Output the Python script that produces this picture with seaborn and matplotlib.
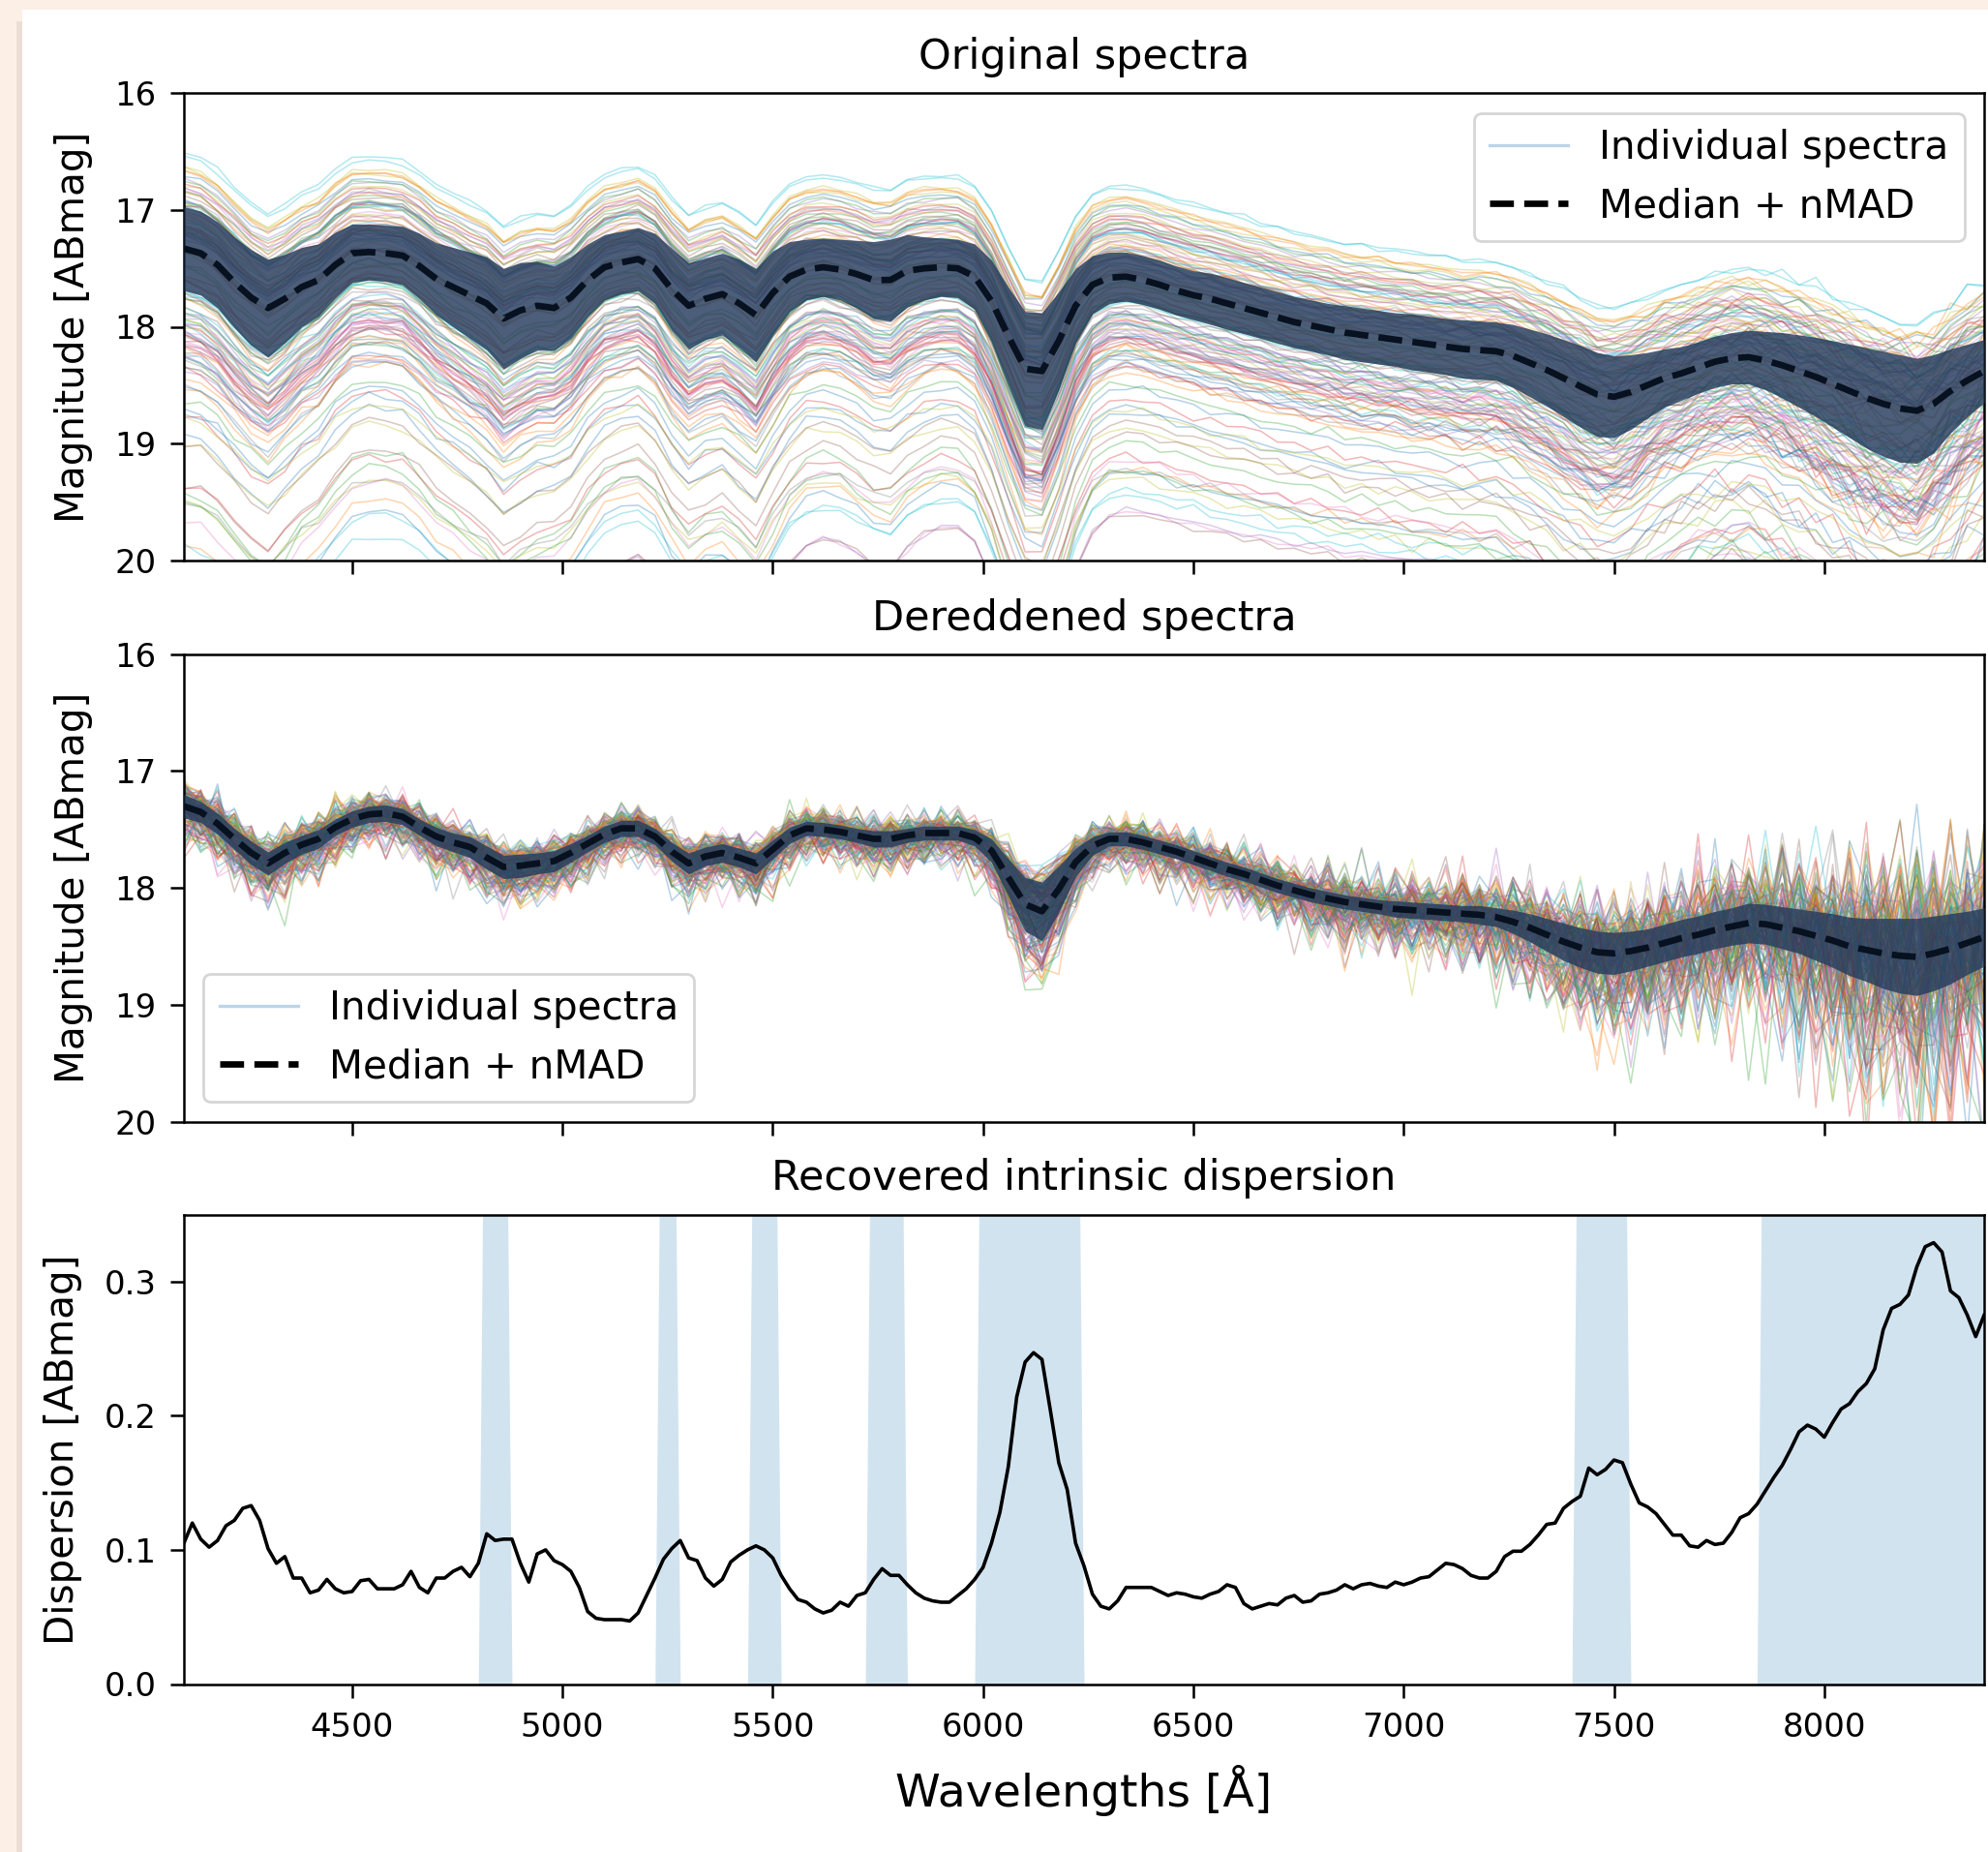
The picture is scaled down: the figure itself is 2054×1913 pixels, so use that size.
import numpy as np
import pandas as pd
import matplotlib
matplotlib.use("Agg")
import matplotlib.pyplot as plt
from matplotlib.lines import Line2D
from matplotlib.patches import Rectangle
import seaborn as sns

# ---------------- data ----------------
# spectral grid: 4100 .. 8380 Angstrom, 40 A step (108 points)
median_orig = [
    17.33, 17.37, 17.47, 17.62, 17.75, 17.84, 17.76, 17.66, 17.60, 17.47,
    17.37, 17.36, 17.37, 17.39, 17.48, 17.59, 17.66, 17.73, 17.80, 17.93,
    17.86, 17.82, 17.84, 17.75, 17.60, 17.49, 17.45, 17.42, 17.50, 17.68,
    17.82, 17.76, 17.72, 17.80, 17.90, 17.71, 17.57, 17.51, 17.49, 17.51,
    17.55, 17.60, 17.60, 17.52, 17.50, 17.49, 17.50, 17.57, 17.78, 18.08,
    18.36, 18.38, 18.12, 17.82, 17.64, 17.58, 17.57, 17.60, 17.64, 17.69,
    17.73, 17.76, 17.80, 17.84, 17.88, 17.92, 17.96, 17.99, 18.02, 18.05,
    18.07, 18.09, 18.11, 18.13, 18.15, 18.17, 18.19, 18.20, 18.21, 18.25,
    18.31, 18.37, 18.44, 18.51, 18.58, 18.60, 18.56, 18.50, 18.44, 18.40,
    18.35, 18.30, 18.27, 18.26, 18.29, 18.33, 18.38, 18.43, 18.49, 18.55,
    18.61, 18.66, 18.70, 18.72, 18.66, 18.55, 18.46, 18.38]
nmad_orig = [
    0.36, 0.36, 0.37, 0.39, 0.41, 0.42, 0.38, 0.34, 0.31, 0.28,
    0.25, 0.24, 0.24, 0.25, 0.28, 0.31, 0.34, 0.37, 0.40, 0.43,
    0.41, 0.38, 0.36, 0.35, 0.31, 0.28, 0.27, 0.27, 0.30, 0.35,
    0.37, 0.35, 0.35, 0.38, 0.40, 0.36, 0.30, 0.26, 0.25, 0.26,
    0.29, 0.33, 0.35, 0.31, 0.27, 0.25, 0.25, 0.28, 0.35, 0.42,
    0.49, 0.50, 0.42, 0.32, 0.25, 0.22, 0.21, 0.21, 0.21, 0.21,
    0.21, 0.22, 0.22, 0.22, 0.22, 0.22, 0.22, 0.22, 0.22, 0.23,
    0.23, 0.23, 0.23, 0.24, 0.24, 0.24, 0.25, 0.25, 0.25, 0.27,
    0.29, 0.31, 0.33, 0.35, 0.36, 0.35, 0.32, 0.28, 0.25, 0.23,
    0.22, 0.22, 0.22, 0.23, 0.25, 0.28, 0.31, 0.34, 0.37, 0.40,
    0.43, 0.45, 0.46, 0.45, 0.42, 0.36, 0.31, 0.27]
median_dered = [
    17.30, 17.35, 17.45, 17.58, 17.70, 17.79, 17.70, 17.63, 17.58, 17.48,
    17.41, 17.37, 17.36, 17.39, 17.48, 17.56, 17.61, 17.65, 17.74, 17.82,
    17.81, 17.79, 17.77, 17.70, 17.62, 17.54, 17.49, 17.49, 17.56, 17.69,
    17.79, 17.73, 17.70, 17.74, 17.79, 17.67, 17.55, 17.49, 17.50, 17.52,
    17.55, 17.58, 17.58, 17.55, 17.53, 17.53, 17.53, 17.57, 17.68, 17.91,
    18.14, 18.20, 18.01, 17.78, 17.64, 17.58, 17.58, 17.61, 17.65, 17.69,
    17.74, 17.79, 17.84, 17.88, 17.93, 17.98, 18.02, 18.06, 18.09, 18.12,
    18.14, 18.16, 18.18, 18.19, 18.20, 18.21, 18.22, 18.23, 18.25, 18.29,
    18.34, 18.40, 18.46, 18.51, 18.55, 18.56, 18.54, 18.51, 18.47, 18.43,
    18.40, 18.36, 18.33, 18.30, 18.31, 18.34, 18.37, 18.41, 18.45, 18.50,
    18.53, 18.56, 18.58, 18.59, 18.56, 18.52, 18.47, 18.42]
nmad_dered = [
    0.10, 0.09, 0.09, 0.09, 0.10, 0.10, 0.09, 0.08, 0.08, 0.07,
    0.07, 0.07, 0.07, 0.07, 0.07, 0.08, 0.08, 0.09, 0.10, 0.10,
    0.10, 0.09, 0.09, 0.08, 0.07, 0.07, 0.07, 0.07, 0.07, 0.08,
    0.09, 0.08, 0.08, 0.08, 0.09, 0.08, 0.07, 0.06, 0.06, 0.06,
    0.06, 0.07, 0.07, 0.06, 0.06, 0.06, 0.06, 0.07, 0.10, 0.16,
    0.23, 0.25, 0.20, 0.12, 0.08, 0.06, 0.06, 0.06, 0.06, 0.06,
    0.06, 0.06, 0.06, 0.06, 0.06, 0.06, 0.06, 0.06, 0.06, 0.06,
    0.06, 0.06, 0.07, 0.07, 0.07, 0.07, 0.07, 0.08, 0.08, 0.10,
    0.12, 0.14, 0.16, 0.17, 0.18, 0.18, 0.17, 0.16, 0.16, 0.16,
    0.16, 0.16, 0.16, 0.17, 0.17, 0.18, 0.19, 0.21, 0.23, 0.25,
    0.27, 0.30, 0.32, 0.33, 0.32, 0.30, 0.27, 0.25]
# per-point measurement error of the individual spectra
meas_error = [
    0.07, 0.07, 0.07, 0.07, 0.07, 0.07, 0.07, 0.07, 0.07, 0.07,
    0.06, 0.06, 0.06, 0.06, 0.06, 0.06, 0.06, 0.06, 0.06, 0.06,
    0.06, 0.06, 0.06, 0.06, 0.06, 0.06, 0.06, 0.06, 0.06, 0.06,
    0.06, 0.06, 0.06, 0.06, 0.06, 0.06, 0.06, 0.06, 0.06, 0.06,
    0.06, 0.06, 0.06, 0.06, 0.06, 0.06, 0.06, 0.06, 0.06, 0.07,
    0.07, 0.07, 0.06, 0.06, 0.06, 0.06, 0.06, 0.06, 0.06, 0.06,
    0.07, 0.07, 0.07, 0.07, 0.08, 0.08, 0.08, 0.08, 0.09, 0.09,
    0.09, 0.09, 0.10, 0.10, 0.10, 0.11, 0.11, 0.11, 0.12, 0.12,
    0.13, 0.13, 0.14, 0.14, 0.15, 0.15, 0.16, 0.16, 0.17, 0.17,
    0.18, 0.18, 0.19, 0.19, 0.20, 0.21, 0.22, 0.23, 0.24, 0.25,
    0.26, 0.27, 0.28, 0.29, 0.30, 0.30, 0.31, 0.31]
# hand-typed residual patterns (unit scale)
residual_a = [
    0.3, -1.2, 0.8, 1.5, -0.4, -2.1, 0.6, 0.1, -0.9, 1.9, -0.3, 0.7, -1.6, 0.4, 2.3, -0.8, -0.2, 1.1, -1.4, 0.5,
    -0.6, 1.3, 0.2, -2.6, 0.9, -0.1, 1.7, -1.0, 0.4, -0.5, 3.1, -1.3, 0.0, 0.8, -1.8, 1.2, -0.7, 0.6, -0.2, 2.0,
    -1.1, 0.3, -0.9, 1.4, -3.4, 0.7, 0.2, -0.6, 1.6, -1.5, 0.9, -0.3, 0.5, -2.2, 1.0, 0.1, -0.8, 2.6, -0.4, -1.2,
    0.7, 1.8, -0.5, -1.7, 0.3, 0.9, -2.4, 1.1, 0.2, -0.6, 1.5, -1.0, 3.6, -0.7, -0.1, 0.8, -1.9, 0.4, 1.2, -0.3,
    -1.4, 0.6, 2.1, -0.9, 0.0, -2.8, 1.3, 0.5, -0.4, 1.7, -1.1, 0.2, -0.6, 2.4, -1.6, 0.8, -0.2, 1.0, -3.0, 0.6,
    0.3, -1.3, 1.9, -0.5, 0.7, -0.9, 1.4, -2.0]
residual_b = [
    -0.5, 0.9, -1.7, 0.2, 1.4, -0.3, -2.5, 1.0, 0.6, -1.1, 0.4, 2.2, -0.8, -0.2, 1.3, -1.9, 0.7, 0.1, -0.6, 3.3,
    -1.4, 0.5, -0.1, 1.8, -1.0, -2.9, 0.8, 0.3, 1.1, -0.7, -1.5, 2.0, 0.0, -0.4, 1.6, -2.3, 0.9, -0.9, 0.2, 1.2,
    -0.3, -1.8, 2.7, -0.6, 0.4, 1.0, -1.2, -0.1, 1.9, -2.0, 0.6, 0.3, -3.7, 1.5, -0.5, 0.7, -1.3, 2.4, 0.1, -0.8,
    1.1, -1.6, 0.5, 0.0, -2.2, 1.7, -0.4, 0.8, -1.0, 2.9, -0.2, -1.4, 0.6, 1.3, -0.7, -2.6, 1.0, 0.2, 0.9, -1.1,
    3.8, -0.6, -0.3, 1.4, -1.7, 0.4, -2.1, 1.2, 0.7, -0.5, -1.2, 2.1, -0.9, 0.3, 1.6, -2.4, 0.5, -0.1, 1.1, -1.5,
    0.8, -0.4, 2.5, -1.9, 0.6, -0.8, 1.2, -0.3]

# individual spectra: (gray offset [mag], feature depth, colour excess)
upper_spectra = [
    (-0.15, 0.2, -0.02), (-0.42, 0.1, -0.06), (-0.08, 0.4, 0.03), (-0.55, 0.0, -0.10), (-0.25, 0.3, 0.00),
    (-0.33, 0.1, -0.04), (-0.62, 0.2, -0.08), (-0.12, 0.5, 0.04), (-0.47, 0.0, -0.03), (-0.20, 0.3, -0.07),
    (-0.05, 0.2, 0.02), (-0.38, 0.4, -0.05), (-0.68, 0.1, -0.12), (-0.28, 0.0, 0.01), (-0.17, 0.2, -0.09),
    (-0.51, 0.3, -0.02), (-0.09, 0.1, 0.05), (-0.36, 0.2, -0.06), (-0.22, 0.4, -0.01), (-0.58, 0.0, -0.04),
    (-0.13, 0.3, -0.03), (-0.44, 0.1, 0.02), (-0.30, 0.2, -0.10), (-0.03, 0.5, 0.00), (-0.49, 0.2, -0.07),
    (-0.19, 0.0, 0.03), (-0.40, 0.3, -0.02), (-0.26, 0.1, -0.05), (-0.65, 0.2, -0.03), (-0.10, 0.4, -0.08),
    (-0.35, 0.0, 0.01), (-0.21, 0.2, -0.04), (-0.53, 0.1, -0.06), (-0.07, 0.3, 0.02), (-0.31, 0.2, -0.09),
    (-0.45, 0.4, 0.00), (-0.16, 0.1, -0.03), (-0.72, 0.0, -0.05), (-0.24, 0.3, 0.04), (-0.39, 0.2, -0.07),
    (-0.11, 0.1, -0.01), (-0.57, 0.3, -0.04), (-0.29, 0.0, -0.02), (-0.02, 0.2, 0.03), (-0.46, 0.1, -0.08),
    (-0.18, 0.4, -0.05), (-0.34, 0.2, 0.01), (-0.61, 0.1, -0.06), (-0.14, 0.3, -0.02), (-0.27, 0.0, -0.10),
    (-0.50, 0.2, 0.00), (-0.06, 0.1, -0.04), (-0.37, 0.3, -0.03), (-0.23, 0.2, 0.02), (-0.43, 0.0, -0.07),
    (-0.10, 0.2, -0.01)]
lower_spectra = [
    (0.10, 0.8, 0.05), (0.35, 1.2, 0.20), (0.05, 0.6, 0.10), (0.52, 1.6, 0.30), (0.22, 1.0, 0.00),
    (0.15, 0.7, 0.35), (0.41, 1.4, 0.12), (0.03, 0.5, 0.02), (0.85, 2.0, 0.35), (0.28, 0.9, 0.40),
    (0.12, 1.1, 0.08), (0.47, 1.3, 0.18), (0.08, 0.6, 0.28), (0.33, 1.7, 0.05), (0.19, 0.8, 0.15),
    (0.56, 1.5, 0.45), (0.02, 0.7, 0.03), (0.38, 1.0, 0.22), (0.25, 1.9, 0.10), (0.95, 1.2, 0.40),
    (0.14, 0.5, 0.06), (0.44, 1.4, 0.14), (0.07, 0.9, 0.38), (0.31, 1.1, 0.02), (0.59, 2.2, 0.20),
    (0.17, 0.6, 0.27), (0.36, 1.3, 0.09), (0.04, 0.8, 0.16), (0.50, 1.0, 0.48), (0.26, 1.6, 0.04),
    (0.11, 0.7, 0.12), (0.42, 1.8, 0.24), (0.20, 0.9, 0.00), (0.80, 1.4, 0.50), (0.09, 0.5, 0.19),
    (0.34, 1.2, 0.07), (0.23, 2.0, 0.30), (0.54, 1.1, 0.13), (0.01, 0.6, 0.05), (0.39, 1.5, 0.42),
    (0.16, 0.8, 0.10), (0.48, 1.3, 0.21), (0.06, 1.0, 0.03), (0.29, 0.7, 0.34), (0.78, 1.7, 0.30),
    (0.21, 1.2, 0.17), (0.45, 0.9, 0.26), (0.13, 1.9, 0.01), (0.37, 0.6, 0.44), (0.27, 1.4, 0.11),
    (0.57, 1.0, 0.29), (0.03, 0.8, 0.06), (0.32, 1.6, 0.18), (0.18, 0.5, 0.39), (0.49, 1.1, 0.02),
    (0.10, 1.3, 0.23), (0.40, 2.1, 0.14), (0.24, 0.7, 0.31), (0.90, 1.2, 0.25), (0.15, 0.9, 0.20),
    (0.43, 1.5, 0.05), (0.08, 0.6, 0.35), (0.30, 1.8, 0.12), (0.53, 1.0, 0.27), (0.19, 1.4, 0.00),
    (0.35, 0.8, 0.41), (0.05, 1.1, 0.15), (0.46, 1.3, 0.07), (0.22, 1.9, 0.25), (0.75, 0.7, 0.45)]
outlier_spectra = [
    (0.10, 2.0, 2.20), (1.00, 1.5, 1.00), (0.80, 2.5, 0.70), (0.30, 1.8, 2.00), (1.20, 1.2, 0.60),
    (0.60, 2.2, 1.20), (0.00, 2.0, 2.30), (0.90, 1.0, 0.85), (0.45, 2.4, 1.40), (1.10, 1.6, 0.50),
    (0.70, 2.0, 1.00), (0.35, 1.4, 1.70), (1.30, 2.2, 0.40), (0.55, 1.8, 0.90)]
draw_order = "ULULLUOLUL"

# recovered intrinsic dispersion: 4100 .. 8380 Angstrom, 20 A step (215 points)
dispersion = [
    0.105, 0.120, 0.108, 0.102, 0.107, 0.118, 0.122, 0.131, 0.133, 0.122,
    0.101, 0.090, 0.095, 0.079, 0.079, 0.068, 0.070, 0.078, 0.071, 0.068,
    0.069, 0.077, 0.078, 0.071, 0.071, 0.071, 0.074, 0.084, 0.072, 0.068,
    0.079, 0.079, 0.084, 0.087, 0.080, 0.090, 0.112, 0.107, 0.108, 0.108,
    0.090, 0.076, 0.097, 0.100, 0.092, 0.089, 0.084, 0.072, 0.054, 0.049,
    0.048, 0.048, 0.048, 0.047, 0.053, 0.066, 0.079, 0.093, 0.101, 0.107,
    0.094, 0.092, 0.079, 0.073, 0.078, 0.091, 0.096, 0.100, 0.103, 0.100,
    0.094, 0.081, 0.071, 0.063, 0.061, 0.056, 0.053, 0.055, 0.061, 0.058,
    0.066, 0.068, 0.078, 0.086, 0.081, 0.081, 0.074, 0.068, 0.064, 0.062,
    0.061, 0.061, 0.066, 0.071, 0.078, 0.087, 0.105, 0.128, 0.162, 0.214,
    0.240, 0.247, 0.242, 0.204, 0.165, 0.145, 0.105, 0.088, 0.067, 0.058,
    0.056, 0.062, 0.072, 0.072, 0.072, 0.072, 0.069, 0.066, 0.068, 0.067,
    0.065, 0.064, 0.067, 0.069, 0.074, 0.072, 0.060, 0.056, 0.058, 0.060,
    0.059, 0.064, 0.066, 0.061, 0.062, 0.067, 0.068, 0.070, 0.074, 0.071,
    0.074, 0.075, 0.073, 0.072, 0.076, 0.074, 0.076, 0.079, 0.080, 0.085,
    0.090, 0.089, 0.086, 0.081, 0.079, 0.079, 0.084, 0.095, 0.099, 0.099,
    0.104, 0.111, 0.119, 0.120, 0.131, 0.136, 0.140, 0.161, 0.156, 0.160,
    0.167, 0.165, 0.149, 0.135, 0.132, 0.127, 0.119, 0.111, 0.111, 0.103,
    0.102, 0.107, 0.104, 0.105, 0.113, 0.124, 0.127, 0.134, 0.144, 0.154,
    0.163, 0.175, 0.188, 0.193, 0.190, 0.184, 0.195, 0.205, 0.209, 0.218,
    0.224, 0.235, 0.264, 0.280, 0.283, 0.290, 0.311, 0.326, 0.329, 0.322,
    0.293, 0.288, 0.275, 0.259, 0.275]
# wavelength ranges highlighted in the bottom panel (inclusive grid points)
band_starts = [4820, 5240, 5460, 5740, 6000, 7420, 7860]
band_ends = [4860, 5260, 5500, 5800, 6220, 7520, 8380]

x_ticks = [4500, 5000, 5500, 6000, 6500, 7000, 7500, 8000]
mag_ticks = [16, 17, 18, 19, 20]
disp_ticks = [0.0, 0.1, 0.2, 0.3]

# ---------------- build arrays ----------------
median_orig = np.array(median_orig)
nmad_orig = np.array(nmad_orig)
median_dered = np.array(median_dered)
nmad_dered = np.array(nmad_dered)
meas_error = np.array(meas_error)
residual_a = np.array(residual_a)
residual_b = np.array(residual_b)
dispersion = np.array(dispersion)

wave = np.linspace(4100, 8380, len(median_orig))
wave_disp = np.linspace(4100, 8380, len(dispersion))

groups = {"U": iter(upper_spectra), "L": iter(lower_spectra), "O": iter(outlier_spectra)}
n_blocks = len(outlier_spectra)
params = [next(groups[ch]) for _ in range(n_blocks) for ch in draw_order]

feature_depth = nmad_orig - nmad_orig.min()
reddening_curve = 5500.0 / wave

rows_o, rows_d = [], []
for k, (g, a, c) in enumerate(params):
    resid = 0.75 * np.roll(residual_a, 7 * k + 3) + 0.75 * np.roll(residual_b, 11 * k + 5)
    noise_scale = 0.55 + 0.6 * (min(g, 0.7) + 0.75)      # fainter objects are noisier
    orig = (median_orig + g + a * feature_depth + c * reddening_curve
            + 0.15 * noise_scale * meas_error * resid)
    scatter = 1.1 * (a - 0.7) + 0.8 * min(g, 0.7)
    dered = median_dered + scatter * nmad_dered + noise_scale * meas_error * resid
    name = f"s{k:03d}"
    rows_o.append(pd.DataFrame({"wave": wave, "mag": orig, "spec": name}))
    rows_d.append(pd.DataFrame({"wave": wave, "mag": dered, "spec": name}))
df_orig = pd.concat(rows_o, ignore_index=True)
df_dered = pd.concat(rows_d, ignore_index=True)

tab10 = sns.color_palette("tab10", 10)
palette = [tab10[(k + k // 10 * 3) % 10] for k in range(len(params))]

band_mask = np.zeros_like(wave_disp)
for s, e in zip(band_starts, band_ends):
    band_mask[(wave_disp >= s - 1) & (wave_disp <= e + 1)] = 1.0

# ---------------- figure ----------------
W, H, DPI = 2054, 1913, 200
fig = plt.figure(figsize=(W / DPI, H / DPI), dpi=DPI)
fig.patch.set_facecolor("#fcefe6")
fig.add_artist(Rectangle((17 / W, 0), 7 / W, 1 - 22 / H, transform=fig.transFigure,
                         facecolor="#d8cbc3", edgecolor="none", alpha=0.45, zorder=-11))
fig.add_artist(Rectangle((23 / W, 0), 1, 1 - 10 / H, transform=fig.transFigure,
                         facecolor="white", edgecolor="none", zorder=-10))

left, width = 190 / W, 1860 / W
ax1 = fig.add_axes([left, 1 - 578.6 / H, width, 482.2 / H])
ax2 = fig.add_axes([left, 1 - 1158.6 / H, width, 482.8 / H])
ax3 = fig.add_axes([left, 1 - 1739.5 / H, width, 485.0 / H])

TICK_FS, LABEL_FS, TITLE_FS, LEG_FS, XLAB_FS = 12.2, 14.6, 15.5, 14.6, 17
band_color = "#243b5c"
median_color = "#07111f"

leg_handles = [Line2D([], [], color="C0", alpha=0.3, lw=1.2),
               Line2D([], [], color="k", ls="--", lw=2.4)]
leg_labels = ["Individual spectra", "Median + nMAD"]

for ax, df, med, nm, title, loc in [
        (ax1, df_orig, median_orig, nmad_orig, "Original spectra", "upper right"),
        (ax2, df_dered, median_dered, nmad_dered, "Dereddened spectra", "lower left")]:
    sns.lineplot(data=df, x="wave", y="mag", hue="spec", palette=palette,
                 estimator=None, sort=False, linewidth=0.55, alpha=0.33,
                 legend=False, ax=ax, zorder=1)
    ax.fill_between(wave, med - nm, med + nm, color=band_color, alpha=0.82,
                    lw=0, zorder=3)
    sns.lineplot(x=wave, y=med, color=median_color, linewidth=2.4, linestyle="--",
                 ax=ax, zorder=4)
    ax.set_xlim(4100, 8380)
    ax.set_ylim(20, 16)
    ax.set_yticks(mag_ticks)
    ax.set_xticks(x_ticks)
    ax.set_xticklabels([])
    ax.set_xlabel("")
    ax.set_ylabel("Magnitude [ABmag]", fontsize=LABEL_FS, labelpad=8)
    ax.set_title(title, fontsize=TITLE_FS, pad=9)
    ax.legend(leg_handles, leg_labels, loc=loc, fontsize=LEG_FS)

ax3.fill_between(wave_disp, 0, band_mask * 0.7, color="C0", alpha=0.2, lw=0, zorder=1)
sns.lineplot(x=wave_disp, y=dispersion, color="k", linewidth=1.3, ax=ax3, zorder=3)
ax3.set_xlim(4100, 8380)
ax3.set_ylim(0, 0.35)
ax3.set_yticks(disp_ticks)
ax3.set_xticks(x_ticks)
ax3.set_ylabel("Dispersion [ABmag]", fontsize=LABEL_FS, labelpad=8)
ax3.set_xlabel("Wavelengths [Å]", fontsize=XLAB_FS, labelpad=8)
ax3.set_title("Recovered intrinsic dispersion", fontsize=TITLE_FS, pad=9)

for ax in (ax1, ax2, ax3):
    ax.tick_params(axis="both", labelsize=TICK_FS, length=5.2, width=0.9, pad=5)
    for sp in ax.spines.values():
        sp.set_linewidth(0.9)

fig.savefig("out.png", dpi=DPI, facecolor=fig.get_facecolor())
